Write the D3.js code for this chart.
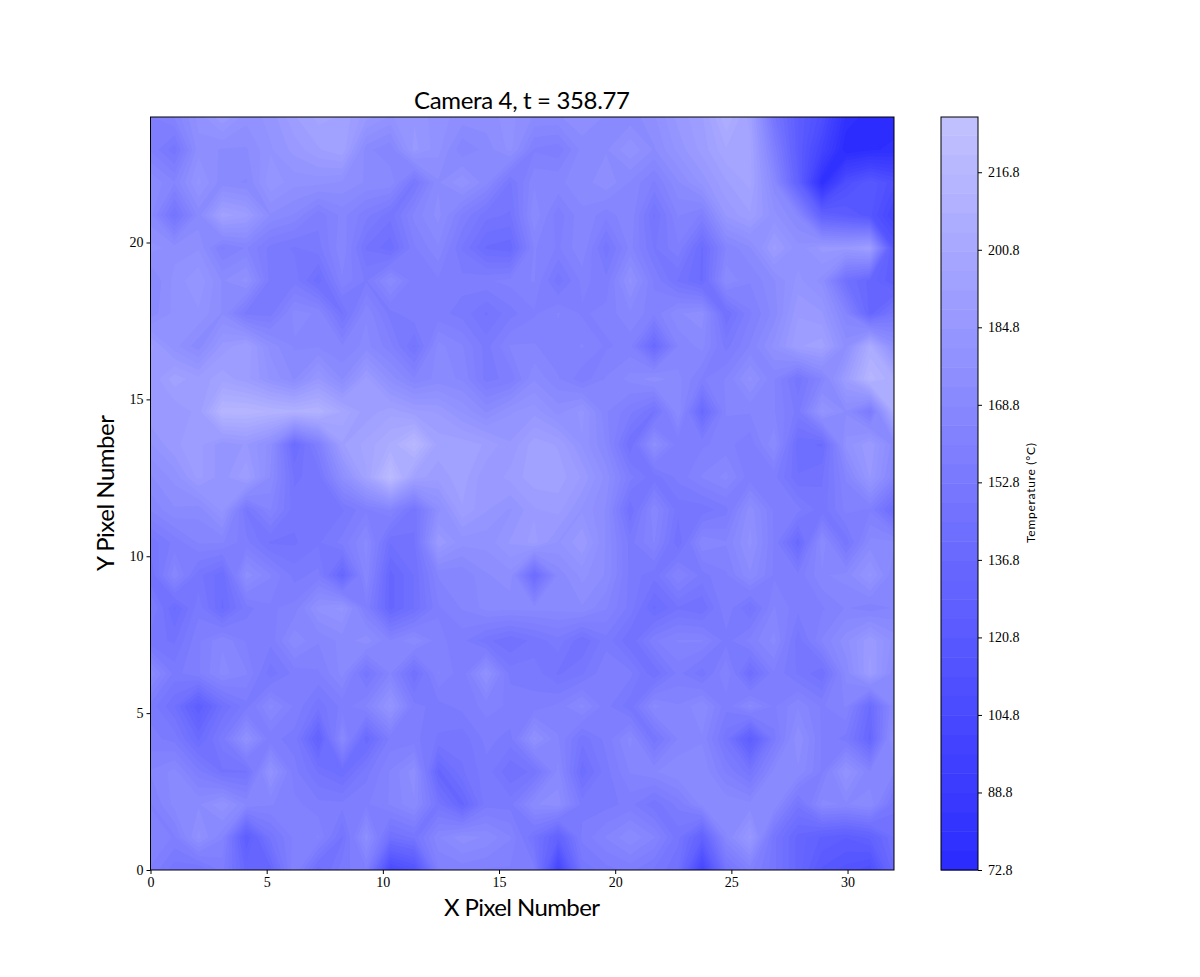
<!DOCTYPE html>
<html>
<head>
<meta charset="utf-8">
<script src="https://cdn.jsdelivr.net/npm/d3@7"></script>
<style>
  html, body { margin: 0; padding: 0; background: #fff; }
  svg { display: block; }
  .tick text { font-family: "Liberation Serif", serif; font-size: 14px; fill: #000; }
  .sans { font-family: "Lato", "Noto Sans", sans-serif; fill: #000; }
</style>
</head>
<body>
<main></main>
<script>
const title = 'Camera 4, t = 358.77';
const xLabel = 'X Pixel Number';
const yLabel = 'Y Pixel Number';
const barLabel = 'Temperature (°C)';
const xTicks = [0, 5, 10, 15, 20, 25, 30];
const yTicks = [0, 5, 10, 15, 20];
const barTicks = [72.8, 88.8, 104.8, 120.8, 136.8, 152.8, 168.8, 184.8, 200.8, 216.8];

// sensor rows, top of the picture first (32 x 24 pixels)
const temps = [
  [160,165,178,188,178,182,192,198,196,186,180,184,178,175,175,178,172,172,176,172,170,176,186,192,208,195,150,125,110,80,74,74],
  [160,150,175,172,172,180,186,192,196,170,165,186,178,165,170,178,160,158,170,172,180,172,182,190,200,198,160,125,100,72.8,76,78],
  [172,165,182,170,168,184,178,178,176,172,172,152,172,180,170,152,168,168,170,176,168,160,172,182,192,198,170,130,78,110,120,110],
  [170,148,170,195,190,172,168,158,166,158,150,166,174,160,150,148,172,158,168,162,168,148,165,160,185,192,178,168,130,125,118,100],
  [178,175,176,160,165,155,152,155,168,148,142,160,168,152,140,138,165,160,168,150,166,152,160,140,165,172,190,178,186,186,192,118],
  [168,178,184,172,178,155,155,142,164,156,172,158,160,158,160,162,165,150,162,158,178,160,148,140,172,165,172,182,175,145,135,125],
  [170,178,180,172,155,155,170,168,148,168,155,160,158,155,148,155,160,165,160,162,168,162,172,175,145,160,170,188,185,165,135,150],
  [190,178,170,186,192,175,168,168,165,170,162,148,170,165,155,165,165,162,165,160,162,138,165,170,155,165,178,192,195,175,205,175],
  [185,195,190,195,190,180,172,185,172,190,175,165,170,168,155,158,172,165,158,165,170,175,170,160,165,178,165,150,165,190,215,205],
  [188,185,190,215,215,212,210,212,200,190,195,190,188,180,172,180,183,175,182,165,158,148,172,138,165,165,165,155,182,172,155,205],
  [180,188,190,182,185,175,140,160,192,198,205,218,195,195,192,185,195,192,180,168,145,175,158,160,162,158,172,142,140,178,188,170],
  [172,178,190,182,192,172,148,150,175,196,222,195,190,195,185,190,195,195,188,175,158,150,158,165,170,158,158,145,148,165,185,165],
  [165,172,170,182,152,165,150,150,152,160,165,150,175,192,185,180,188,190,180,172,145,168,150,150,155,175,160,158,150,162,160,140],
  [150,158,165,165,158,148,148,152,158,170,145,148,188,178,178,185,190,180,188,172,155,165,145,168,165,178,160,138,172,150,170,170],
  [145,168,150,142,175,165,155,158,135,168,135,145,165,165,172,175,140,170,178,172,155,150,165,155,160,172,160,158,168,170,182,165],
  [158,140,155,140,155,160,162,178,182,160,135,145,160,165,170,170,170,170,172,165,155,140,148,145,160,148,165,158,160,165,162,165],
  [150,148,160,168,160,158,172,165,170,175,165,172,162,158,150,145,150,155,145,155,145,160,165,165,155,162,170,150,165,175,188,175],
  [172,155,160,170,165,150,158,160,170,150,165,145,165,158,178,155,155,148,152,160,158,145,158,150,165,142,160,152,145,170,190,170],
  [155,145,125,145,155,170,160,150,158,165,182,158,155,158,162,160,158,162,170,158,150,170,165,172,158,170,160,168,160,165,140,170],
  [158,155,140,155,178,158,155,130,170,138,158,158,152,150,158,155,178,165,150,158,170,150,165,168,150,125,155,176,160,155,135,178],
  [165,170,158,148,148,180,158,148,142,155,165,175,135,148,155,145,150,170,142,155,165,168,172,172,160,150,170,172,160,180,165,165],
  [160,170,172,180,168,165,162,158,158,160,165,172,150,135,155,155,172,175,155,155,158,150,158,170,172,170,172,150,170,168,172,150],
  [165,160,178,165,125,150,162,165,148,175,145,150,168,175,172,165,148,130,158,165,172,165,150,130,168,186,150,135,128,125,130,145],
  [160,150,148,158,135,135,165,142,155,160,105,115,160,162,160,160,158,100,150,155,158,152,145,100,148,162,150,135,120,115,110,140]
];

const width = 1200;
const height = 977;
const plot = {left: 150.5, right: 894, top: 117, bottom: 870};
const bar = {left: 941, right: 978, top: 117, bottom: 870};

const barMin = 72.8;
const barMax = 228.2;
const bandStep = 3.99;
const levels = d3.range(barMin, barMax - 0.5, bandStep);

// blue end of the colormap, fades towards white
const color = d3.scaleLinear().domain([barMin, barMax]).range(['#2a2aff', '#c2c2ff']);
const bandColor = t => color(Math.min(t + bandStep / 2, barMax));

const svg = d3.select('main').append('svg').attr('width', width).attr('height', height);

const x = d3.scaleLinear().domain([0, 32]).range([plot.left, plot.right]);
const y = d3.scaleLinear().domain([0, 24]).range([plot.bottom, plot.top]);

// d3.contours puts grid point i at i + 0.5
const nx = temps[0].length;
const ny = temps.length;
const gridX = d3.scaleLinear().domain([0.5, nx - 0.5]).range([plot.left, plot.right]);
const gridY = d3.scaleLinear().domain([0.5, ny - 0.5]).range([plot.top, plot.bottom]);

const contours = d3.contours().size([nx, ny]).smooth(true).thresholds(levels)(temps.flat());
const path = d3.geoPath(d3.geoTransform({
  point(px, py) { this.stream.point(gridX(px), gridY(py)); }
}));

svg.append('clipPath').attr('id', 'plot-clip').append('rect')
  .attr('x', plot.left).attr('y', plot.top)
  .attr('width', plot.right - plot.left).attr('height', plot.bottom - plot.top);

svg.append('g').attr('clip-path', 'url(#plot-clip)')
  .selectAll('path')
  .data(contours)
  .join('path')
  .attr('d', path)
  .attr('fill', d => bandColor(d.value));

svg.append('rect')
  .attr('x', plot.left).attr('y', plot.top)
  .attr('width', plot.right - plot.left).attr('height', plot.bottom - plot.top)
  .attr('fill', 'none').attr('stroke', '#000').attr('stroke-width', 1);

svg.append('g').attr('transform', `translate(0,${plot.bottom})`)
  .call(d3.axisBottom(x).tickValues(xTicks).tickFormat(d3.format('d')).tickSize(4).tickPadding(3))
  .call(g => g.select('.domain').remove());

svg.append('g').attr('transform', `translate(${plot.left},0)`)
  .call(d3.axisLeft(y).tickValues(yTicks).tickFormat(d3.format('d')).tickSize(4).tickPadding(3))
  .call(g => g.select('.domain').remove());

svg.append('text').attr('class', 'sans')
  .attr('x', 522).attr('y', 109).attr('text-anchor', 'middle')
  .attr('font-size', 24).attr('textLength', 216).text(title);

svg.append('text').attr('class', 'sans')
  .attr('x', 522).attr('y', 916).attr('text-anchor', 'middle')
  .attr('font-size', 24).attr('textLength', 156).text(xLabel);

svg.append('text').attr('class', 'sans')
  .attr('transform', 'translate(114,493) rotate(-90)').attr('text-anchor', 'middle')
  .attr('font-size', 24).attr('textLength', 156).text(yLabel);

// colorbar
const barY = d3.scaleLinear().domain([barMin, barMax]).range([bar.bottom, bar.top]);

svg.append('g').selectAll('rect')
  .data(levels)
  .join('rect')
  .attr('x', bar.left)
  .attr('width', bar.right - bar.left)
  .attr('y', d => barY(Math.min(d + bandStep, barMax)))
  .attr('height', d => barY(d) - barY(Math.min(d + bandStep, barMax)) + 0.5)
  .attr('fill', d => bandColor(d));

svg.append('rect')
  .attr('x', bar.left).attr('y', bar.top)
  .attr('width', bar.right - bar.left).attr('height', bar.bottom - bar.top)
  .attr('fill', 'none').attr('stroke', '#000').attr('stroke-width', 1);

svg.append('g').attr('transform', `translate(${bar.right},0)`)
  .call(d3.axisRight(barY).tickValues(barTicks).tickFormat(d3.format('.1f')).tickSize(4).tickPadding(6))
  .call(g => g.select('.domain').remove());

svg.append('text').attr('class', 'sans')
  .attr('transform', 'translate(1035,493) rotate(-90)').attr('text-anchor', 'middle')
  .attr('font-size', 12).attr('textLength', 100).text(barLabel);
</script>
</body>
</html>
